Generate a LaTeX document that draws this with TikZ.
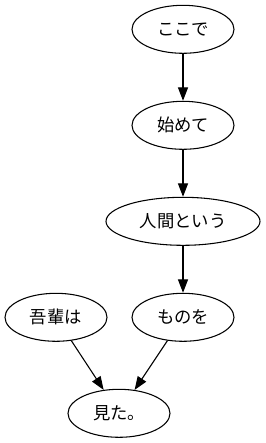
\documentclass[tikz,border=0pt]{standalone}
\usepackage{fontspec}
\newfontfamily\cjk{Noto Sans CJK JP}
\usetikzlibrary{arrows.meta,shapes.geometric}
\tikzset{
  word/.style={draw, ellipse, line width=0.8pt, inner sep=0pt, minimum width=76.5pt, minimum height=36pt, font=\cjk\fontsize{13}{15}\selectfont},
  wide/.style={word, minimum width=115.5pt},
  link/.style={line width=0.8pt, -{Triangle[length=10pt,width=7.5pt]}}
}
\begin{document}
\begin{tikzpicture}[x=0.75pt,y=-0.75pt]
\useasboundingbox (0,0) rectangle (265,443);
\node[word] (koko) at (183,29.3) {ここで};
\node[word] (haji) at (183,125.3) {始めて};
\node[wide] (ning) at (183,221.3) {人間という};
\node[word] (mono) at (183,317.3) {ものを};
\node[word] (wag) at (56,317.3) {吾輩は};
\node[word] (mita) at (119,413.3) {見た。};
\draw[link] (koko) -- (haji);
\draw[link] (haji) -- (ning);
\draw[link] (ning) -- (mono);
\draw[link] (wag) -- (mita);
\draw[link] (mono) -- (mita);
\end{tikzpicture}
\end{document}
